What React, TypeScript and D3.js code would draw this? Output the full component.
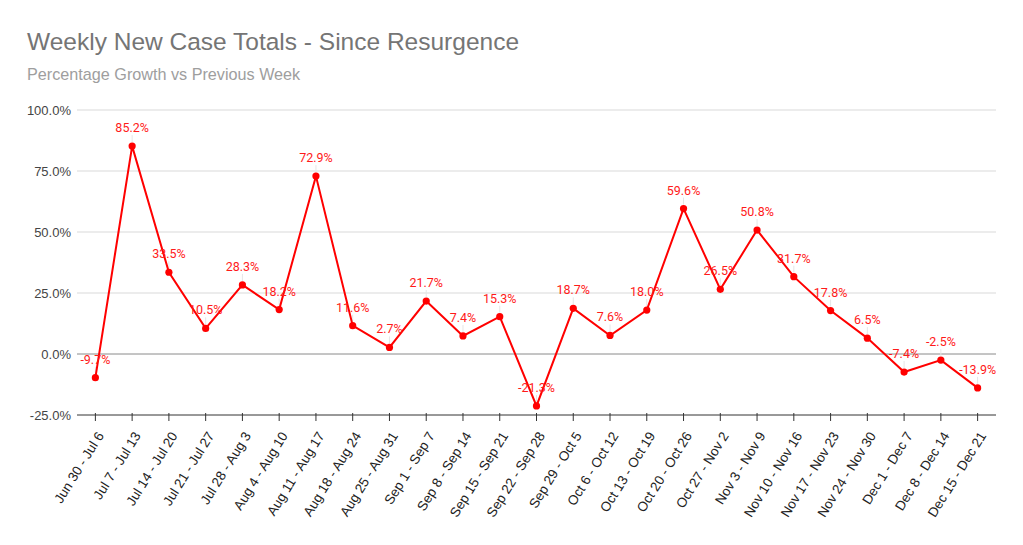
import React from "react";
import * as d3 from "d3";

const categories = [
  "Jun 30 - Jul 6", "Jul 7 - Jul 13", "Jul 14 - Jul 20", "Jul 21 - Jul 27", "Jul 28 - Aug 3",
  "Aug 4 - Aug 10", "Aug 11 - Aug 17", "Aug 18 - Aug 24", "Aug 25 - Aug 31", "Sep 1 - Sep 7",
  "Sep 8 - Sep 14", "Sep 15 - Sep 21", "Sep 22 - Sep 28", "Sep 29 - Oct 5", "Oct 6 - Oct 12",
  "Oct 13 - Oct 19", "Oct 20 - Oct 26", "Oct 27 - Nov 2", "Nov 3 - Nov 9", "Nov 10 - Nov 16",
  "Nov 17 - Nov 23", "Nov 24 - Nov 30", "Dec 1 - Dec 7", "Dec 8 - Dec 14", "Dec 15 - Dec 21",
];
const growth = [
  -9.7, 85.2, 33.5, 10.5, 28.3, 18.2, 72.9, 11.6, 2.7, 21.7, 7.4, 15.3, -21.3, 18.7, 7.6,
  18.0, 59.6, 26.5, 50.8, 31.7, 17.8, 6.5, -7.4, -2.5, -13.9,
];
const yTicks = [-25, 0, 25, 50, 75, 100];

const W = 1023, H = 545;
const plot = { left: 77, right: 996, top: 110, bottom: 415 };

export default function App() {
  const x = d3.scaleBand<string>().domain(categories).range([plot.left, plot.right]);
  const y = d3.scaleLinear().domain([-25, 100]).range([plot.bottom, plot.top]);
  const cx = (c: string) => (x(c) ?? 0) + x.bandwidth() / 2;
  const line = d3
    .line<number>()
    .x((_, i) => cx(categories[i]))
    .y((d) => y(d));

  return (
    <svg width={W} height={H} style={{ position: "absolute", left: 0, top: 0, background: "#fff" }}
      fontFamily="Roboto, Arial, sans-serif">
      <rect width={W} height={H} fill="#fff" />
      <text x={27} y={50} fontFamily="'Liberation Sans', Arial, sans-serif" fontSize={24.5} fill="#757575">
        Weekly New Case Totals - Since Resurgence
      </text>
      <text x={27} y={80} fontFamily="'Liberation Sans', Arial, sans-serif" fontSize={16.2} fill="#9e9e9e">
        Percentage Growth vs Previous Week
      </text>
      {yTicks.map((t) => (
        <g key={t}>
          {t !== -25 && (
            <line x1={plot.left} x2={plot.right} y1={y(t)} y2={y(t)}
              stroke={t === 0 ? "#8a8a8a" : "#d9d9d9"} strokeWidth={1} />
          )}
          <text x={71} y={y(t)} dy="0.35em" textAnchor="end" fontSize={13}
            fontFamily="'Liberation Sans', Arial, sans-serif" fill="#444">
            {t.toFixed(1)}%
          </text>
        </g>
      ))}
      <line x1={plot.left} x2={plot.right} y1={plot.bottom} y2={plot.bottom} stroke="#333" strokeWidth={1} />
      {categories.map((c) => (
        <g key={c}>
          <line x1={cx(c)} x2={cx(c)} y1={plot.bottom - 2} y2={plot.bottom + 6} stroke="#333" />
          <text transform={`translate(${cx(c) + 5},${plot.bottom + 18}) rotate(-58)`} textAnchor="end"
            dy="0.35em" fontSize={13.5} fontFamily="'Liberation Sans', Arial, sans-serif" fill="#222">
            {c}
          </text>
        </g>
      ))}
      {growth.map((v, i) => (
        <line key={"l" + i} x1={cx(categories[i])} x2={cx(categories[i])} y1={y(v) - 11} y2={y(v) - 4}
          stroke="#e6e6e6" strokeWidth={1} />
      ))}
      <path d={line(growth) ?? ""} fill="none" stroke="#ff0000" strokeWidth={2} />
      {growth.map((v, i) => (
        <circle key={"c" + i} cx={cx(categories[i])} cy={y(v)} r={3.6} fill="#ff0000" />
      ))}
      {growth.map((v, i) => (
        <text key={"t" + i} x={cx(categories[i])} y={y(v) - 14} textAnchor="middle" fontSize={12.5}
          fill="#ff1a1a">
          {v.toFixed(1)}%
        </text>
      ))}
    </svg>
  );
}
